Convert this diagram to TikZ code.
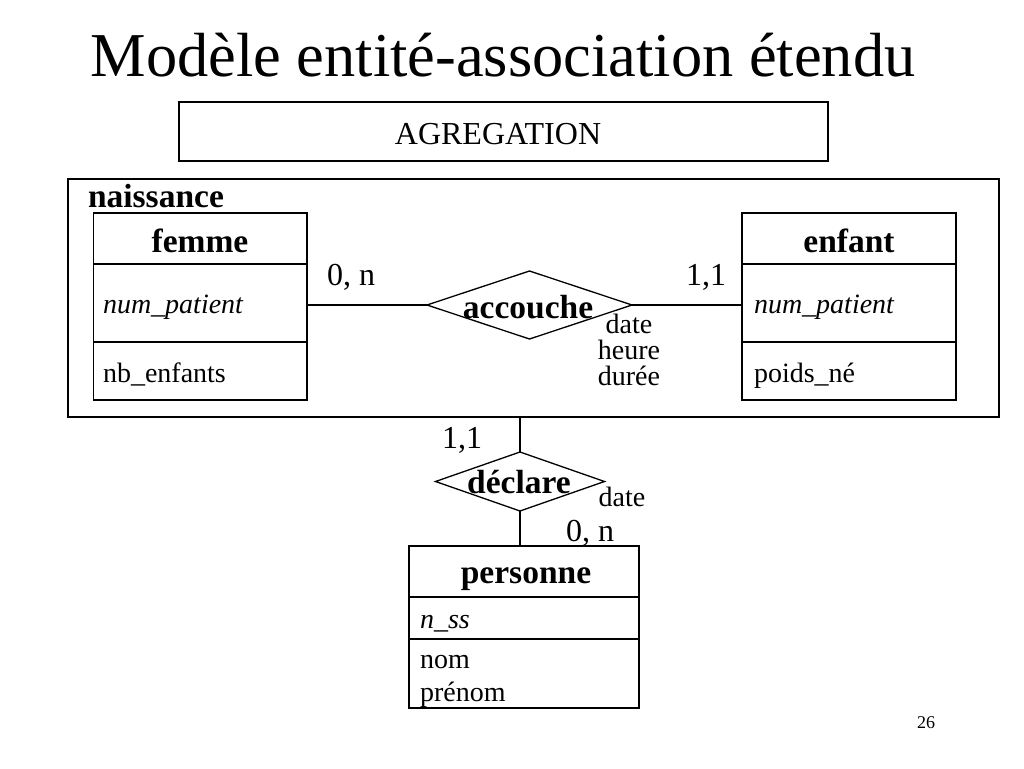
\documentclass[tikz,border=0pt]{standalone}
\usepackage{fontspec}
\setmainfont{Liberation Serif}
\usetikzlibrary{shapes.geometric}
\begin{document}
\begin{tikzpicture}[x=1pt,y=-1pt,line width=1.3pt,
  box/.style={draw,rectangle,inner sep=0pt,outer sep=0pt,anchor=north west},
  rel/.style={draw,diamond,inner sep=0pt,outer sep=0pt},
  txt/.style={inner sep=0pt,outer sep=0pt,font=\fontsize{32}{34}\selectfont},
  bold/.style={inner sep=0pt,outer sep=0pt,font=\fontsize{33.5}{36}\selectfont\bfseries},
  attr/.style={inner sep=0pt,outer sep=0pt,font=\fontsize{28}{30}\selectfont},
  iattr/.style={inner sep=0pt,outer sep=0pt,font=\fontsize{28}{30}\selectfont\itshape}]
\useasboundingbox (0,0) rectangle (1024,768);
\fill[white] (0,0) rectangle (1024,768);

% title
\node[inner sep=0pt,anchor=base,font=\fontsize{62.4}{66}\selectfont] (title) at (503,77) {Modèle entité-association étendu};

% AGREGATION box
\node[box,minimum width=649pt,minimum height=59pt] (agr) at (179,102) {};
\node[txt,anchor=base] (agrt) at (498,144) {AGREGATION};

% naissance box
\node[box,minimum width=931pt,minimum height=238pt] (naiss) at (68,179) {};
\node[bold,anchor=base west] (naisst) at (88,207) {naissance};

% femme
\node[box,minimum width=213.3pt,minimum height=187pt] (femme) at (93.7,213) {};
\draw (femme.west |- 0,264) -- (femme.east |- 0,264);
\draw (femme.west |- 0,342) -- (femme.east |- 0,342);
\node[bold,anchor=base] (femmet) at (200,252) {femme};
\node[iattr,anchor=base west] (femmek) at (103,313) {num\_patient};
\node[attr,anchor=base west] (femmea) at (103,382) {nb\_enfants};

% enfant
\node[box,minimum width=214pt,minimum height=187pt] (enfant) at (742,213) {};
\draw (enfant.west |- 0,264) -- (enfant.east |- 0,264);
\draw (enfant.west |- 0,342) -- (enfant.east |- 0,342);
\node[bold,anchor=base] (enfantt) at (849,252) {enfant};
\node[iattr,anchor=base west] (enfantk) at (754,313) {num\_patient};
\node[attr,anchor=base west] (enfanta) at (754,382) {poids\_né};

% accouche
\node[rel,minimum width=205pt,minimum height=68pt] (acc) at (529.5,305) {};
\node[bold,anchor=base] (acct) at (528,318) {accouche};
\node[attr,anchor=north,align=center,font=\fontsize{28}{26}\selectfont] (accattr) at (629,314) {date\\heure\\durée};
\draw (femme.east |- acc.west) -- (acc.west);
\draw (acc.east) -- (enfant.west |- acc.east);
\node[txt,anchor=base west] (c1) at (327,285) {0, n};
\node[txt,anchor=base west] (c2) at (686,285) {1,1};

% declare
\node[rel,minimum width=169pt,minimum height=59pt] (decl) at (520,481.5) {};
\node[bold,anchor=base] (declt) at (519,493) {déclare};
\node[attr,anchor=base] (decld) at (622,506) {date};
\draw (decl.north |- naiss.south) -- (decl.north);
\node[txt,anchor=base] (c3) at (462,448) {1,1};

% personne
\node[box,minimum width=230pt,minimum height=162pt] (pers) at (409,546) {};
\draw (pers.west |- 0,597) -- (pers.east |- 0,597);
\draw (pers.west |- 0,639) -- (pers.east |- 0,639);
\draw (decl.south) -- (decl.south |- pers.north);
\node[txt,anchor=base west] (c4) at (566,541) {0, n};
\node[bold,anchor=base] (perst) at (526,583) {personne};
\node[iattr,anchor=base west] (persk) at (420,628) {n\_ss};
\node[attr,anchor=base west] (persa) at (420,668) {nom};
\node[attr,anchor=base west] (persb) at (420,701) {prénom};

% page number
\node[inner sep=0pt,anchor=base,font=\fontsize{18}{20}\selectfont] (pg) at (926,728) {26};
\end{tikzpicture}
\end{document}
